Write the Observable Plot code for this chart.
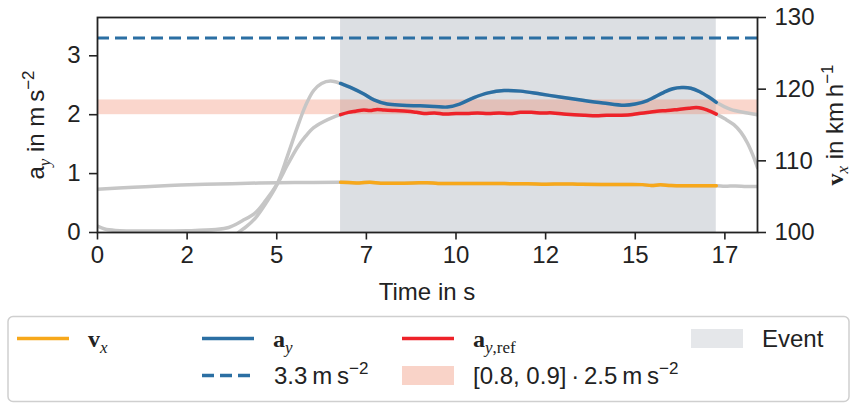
<!DOCTYPE html>
<html><head><meta charset="utf-8">
<script src="https://cdn.jsdelivr.net/npm/d3@7"></script>
<script src="https://cdn.jsdelivr.net/npm/@observablehq/plot@0.6"></script>
<style>
body{margin:0;background:#fff;}
#wrap{width:857px;height:403px;}
#wrap svg{display:block;}
</style></head><body><div id="wrap"></div>
<script>
// ---- data ----
const eventSpan = [6.78, 17.26];          // s
const timeMax = 18.41;                     // s
const ayMax = 3.65;                        // m/s^2 (left axis top)
const vRange = [100, 130];                 // km/h (right axis)
const xTicks = [0, 2.5, 5, 7.5, 10, 12.5, 15, 17.5];
const yTicks = [0, 1, 2, 3];
const vTicks = [100, 110, 120, 130];
const ayLimit = 3.3;
const refBand = [0.8 * 2.5, 0.9 * 2.5];

const ayT = [0, 3.8, 3.93, 4.15, 4.41, 4.7, 5.01, 5.3, 5.57, 5.8, 6.03, 6.25, 6.5, 6.78, 7.1, 7.43, 7.71, 8.08, 8.5, 9.0, 9.4, 9.76, 10.1, 10.5, 10.9, 11.34, 11.8, 12.36, 12.9, 13.48, 14.1, 14.69, 15.0, 15.34, 15.8, 16.05, 16.3, 16.55, 16.8, 17.05, 17.26, 17.66, 18.13, 18.41];
const ayV = [-0.08, -0.08, 0.0, 0.1, 0.25, 0.5, 0.82, 1.3, 1.78, 2.15, 2.41, 2.53, 2.57, 2.53, 2.45, 2.35, 2.25, 2.18, 2.16, 2.15, 2.14, 2.13, 2.18, 2.29, 2.37, 2.41, 2.4, 2.35, 2.3, 2.25, 2.2, 2.16, 2.18, 2.24, 2.38, 2.44, 2.46, 2.45, 2.39, 2.3, 2.21, 2.09, 2.03, 2.0];

const refT = [0, 0.2, 0.5, 1.5, 2.5, 3.3, 3.66, 4.04, 4.41, 4.7, 5.01, 5.3, 5.57, 5.8, 6.03, 6.3, 6.55, 6.78, 7.0, 7.2, 7.43, 7.6, 7.8, 8.0, 8.3, 8.64, 8.9, 9.11, 9.4, 9.7, 10.0, 10.3, 10.6, 10.9, 11.2, 11.5, 11.8, 12.1, 12.4, 12.7, 13.0, 13.3, 13.6, 13.9, 14.2, 14.5, 14.86, 15.1, 15.4, 15.6, 15.9, 16.2, 16.5, 16.7, 16.85, 17.0, 17.26, 17.5, 17.75, 17.95, 18.13, 18.27, 18.41];
const refV = [0.11, 0.06, 0.035, 0.025, 0.03, 0.05, 0.085, 0.2, 0.34, 0.55, 0.82, 1.15, 1.44, 1.63, 1.78, 1.88, 1.95, 2.0, 2.04, 2.06, 2.08, 2.07, 2.09, 2.08, 2.07, 2.06, 2.04, 2.02, 2.03, 2.01, 2.02, 2.02, 2.03, 2.02, 2.03, 2.02, 2.04, 2.04, 2.03, 2.03, 2.01, 2.0, 1.99, 1.98, 1.99, 1.99, 2.0, 2.02, 2.04, 2.06, 2.07, 2.09, 2.11, 2.12, 2.11, 2.08, 2.01, 1.93, 1.83, 1.7, 1.52, 1.33, 1.1];

const vxT = [0, 1, 2, 3, 4.5, 5.5, 6.78, 7.0, 7.3, 7.6, 7.9, 8.3, 8.8, 9.2, 9.5, 10.0, 11.0, 12.0, 12.5, 13.0, 13.5, 14.5, 15.2, 15.45, 15.7, 16.0, 16.5, 17.26, 17.5, 17.8, 18.1, 18.41];
const vxV = [106.05, 106.3, 106.55, 106.72, 106.9, 106.97, 107.0, 106.98, 106.92, 107.0, 106.88, 106.87, 106.9, 106.95, 106.85, 106.85, 106.83, 106.8, 106.74, 106.78, 106.72, 106.7, 106.68, 106.55, 106.66, 106.55, 106.52, 106.52, 106.45, 106.5, 106.42, 106.42];

// ---- helpers ----
const vToY = v => (v - vRange[0]) / (vRange[1] - vRange[0]) * ayMax;
const zip = (t, v) => t.slice(0, Math.min(t.length, v.length)).map((d, i) => ({t: d, v: v[i]}));
const inEvent = d => d.t >= eventSpan[0] - 1e-9 && d.t <= eventSpan[1] + 1e-9;

const ayData = zip(ayT, ayV);
const refData = zip(refT, refV);
const vxData = zip(vxT, vxV).map(d => ({t: d.t, v: vToY(d.v)}));

const C = {orange: "#f7a81b", blue: "#2b6fa3", red: "#ee2229", gray: "#c6c6c6", event: "#dcdfe3", band: "#f08060", ink: "#222"};
const FONT = "Liberation Sans, Arial, sans-serif";
const SERIF = "Liberation Serif, Times New Roman, serif";

const lineOpts = (color) => ({x: "t", y: "v", stroke: color, strokeWidth: 3.5, curve: "catmull-rom", clip: true});

const chart = Plot.plot({
  width: 857, height: 310,
  marginLeft: 97, marginRight: 100, marginTop: 17, marginBottom: 78,
  style: {fontFamily: FONT, fontSize: "24px", color: C.ink, background: "white"},
  x: {domain: [0, timeMax]},
  y: {domain: [0, ayMax]},
  marks: [
    Plot.rect([eventSpan], {x1: d => d[0], x2: d => d[1], y1: () => 0, y2: () => ayMax, fill: C.event}),
    Plot.rect([refBand], {x1: () => 0, x2: () => timeMax, y1: d => d[0], y2: d => d[1], fill: C.band, fillOpacity: 0.32}),
    Plot.line(vxData, lineOpts(C.gray)),
    Plot.line(refData, lineOpts(C.gray)),
    Plot.line(ayData, lineOpts(C.gray)),
    Plot.ruleY([ayLimit], {stroke: C.blue, strokeWidth: 3, strokeDasharray: "12,6"}),
    Plot.line(vxData.filter(inEvent), lineOpts(C.orange)),
    Plot.line(refData.filter(inEvent), lineOpts(C.red)),
    Plot.line(ayData.filter(inEvent), lineOpts(C.blue)),
    Plot.frame({stroke: C.ink, strokeWidth: 1.8}),
    Plot.axisX(xTicks, {tickFormat: d => String(Math.floor(d)), tickSize: 7.5, tickPadding: 6, label: null, stroke: C.ink, strokeWidth: 1.6}),
    Plot.axisY(yTicks, {anchor: "left", tickFormat: d => String(d), tickSize: 8, tickPadding: 9, label: null, stroke: C.ink, strokeWidth: 1.6}),
    Plot.axisY(vTicks.map(vToY), {anchor: "right", tickSize: 8, tickPadding: 9, label: null, stroke: C.ink, strokeWidth: 1.6,
      tickFormat: d => String(Math.round(d / ayMax * (vRange[1] - vRange[0]) + vRange[0]))})
  ]
});

const svg = d3.select(chart);
// x label
svg.append("text").attr("x", 427).attr("y", 300).attr("text-anchor", "middle")
  .attr("font-family", FONT).attr("font-size", 24).attr("fill", C.ink).text("Time in s");
// left label
const ll = svg.append("text").attr("transform", "translate(43.5,125) rotate(-90)").attr("text-anchor", "middle")
  .attr("font-family", FONT).attr("font-size", 24).attr("fill", C.ink);
ll.append("tspan").text("a");
ll.append("tspan").attr("font-family", SERIF).attr("font-style", "italic").attr("font-size", 17).attr("dy", 6).text("y");
ll.append("tspan").attr("dy", -6).text(" in m\u2009s");
ll.append("tspan").attr("font-size", 17).attr("dy", -10).text("\u22122");
// right label
const rl = svg.append("text").attr("transform", "translate(843,125) rotate(-90)").attr("text-anchor", "middle")
  .attr("font-family", FONT).attr("font-size", 24).attr("fill", C.ink);
rl.append("tspan").attr("font-family", SERIF).attr("font-weight", "bold").text("v");
rl.append("tspan").attr("font-family", SERIF).attr("font-style", "italic").attr("font-size", 17).attr("dy", 5).text("x");
rl.append("tspan").attr("dy", -5).text(" in km\u2009h");
rl.append("tspan").attr("font-size", 17).attr("dy", -10).text("\u22121");

document.getElementById("wrap").appendChild(chart);

// ---- legend (below the chart) ----
const lg = d3.select("#wrap").append("svg").attr("width", 857).attr("height", 93)
  .attr("font-family", FONT).attr("font-size", 24);
lg.append("rect").attr("x", 8).attr("y", 6.5).attr("width", 841).attr("height", 85).attr("rx", 5)
  .attr("fill", "white").attr("stroke", "#cfcfcf").attr("stroke-width", 1.5);
const r1 = 28.5, r2 = 65.5, b1 = 37, b2 = 74;
const lineSw = (x, y, color, dash) => lg.append("line").attr("x1", x).attr("x2", x + 52).attr("y1", y).attr("y2", y)
  .attr("stroke", color).attr("stroke-width", 3.5).attr("stroke-dasharray", dash || null);
const boxSw = (x, y, color) => lg.append("rect").attr("x", x).attr("y", y - 9.5).attr("width", 52).attr("height", 19).attr("fill", color);
const mathVar = (x, y, base, sub, subRest) => {
  const t = lg.append("text").attr("x", x).attr("y", y).attr("fill", C.ink);
  t.append("tspan").attr("font-family", SERIF).attr("font-weight", "bold").text(base);
  t.append("tspan").attr("font-family", SERIF).attr("font-style", "italic").attr("font-size", 17).attr("dy", 6).text(sub);
  if (subRest) t.append("tspan").attr("font-family", SERIF).attr("font-size", 17).text(subRest);
  return t;
};
const unitText = (x, y, main, sup) => {
  const t = lg.append("text").attr("x", x).attr("y", y).attr("fill", C.ink);
  t.append("tspan").text(main);
  t.append("tspan").attr("font-size", 17).attr("dy", -10).text(sup);
};
lineSw(17, r1, C.orange); mathVar(88, b1, "v", "x");
lineSw(202, r1, C.blue); mathVar(273, b1, "a", "y");
lineSw(402, r1, C.red); mathVar(473, b1, "a", "y", ",ref");
boxSw(691, r1, "#e5e7ea"); lg.append("text").attr("x", 762).attr("y", b1).attr("fill", C.ink).text("Event");
lineSw(202, r2, C.blue, "12,6"); unitText(274, b2, "3.3\u2009m\u2009s", "\u22122");
boxSw(402, r2, "#f9d3c8"); unitText(473, b2, "[0.8, 0.9]\u2009\u00b7\u20092.5\u2009m\u2009s", "\u22122");
</script></body></html>
